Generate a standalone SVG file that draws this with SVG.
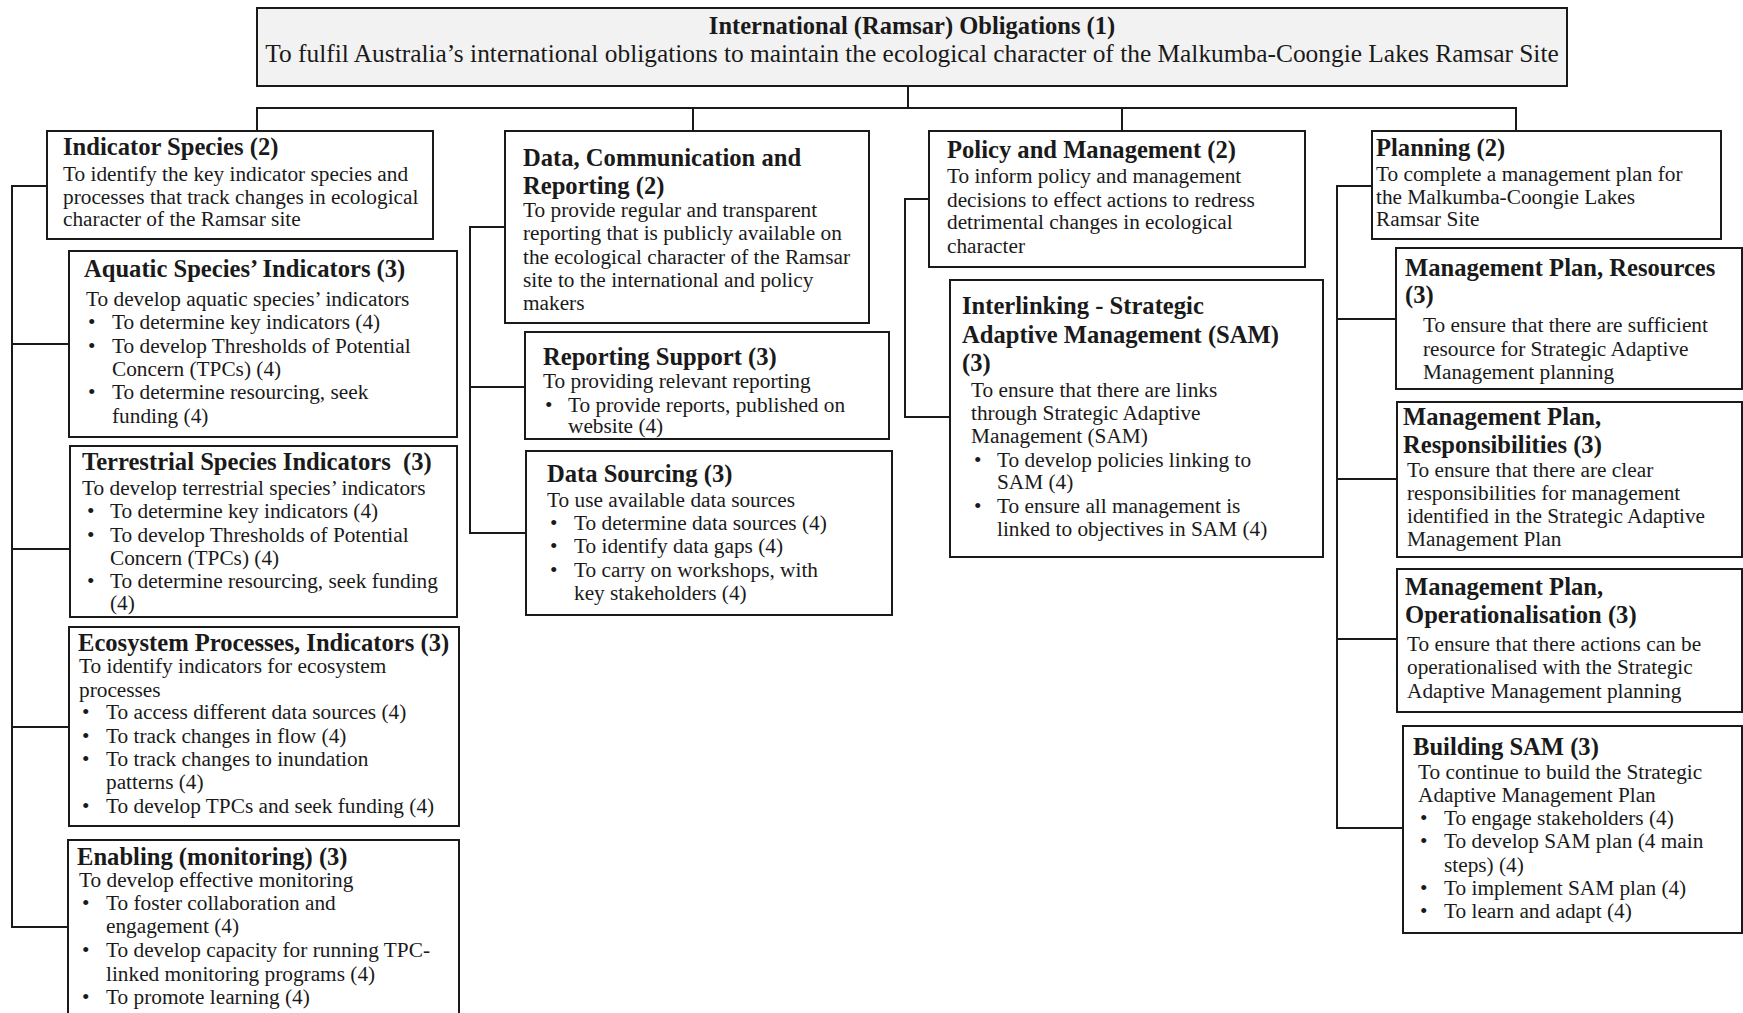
<svg xmlns="http://www.w3.org/2000/svg" width="1743" height="1013" viewBox="0 0 1743 1013">
<style>
  .box { fill: #ffffff; stroke: #1a1a1a; stroke-width: 2; }
  .topbox { fill: #f2f2f2; stroke: #1a1a1a; stroke-width: 2; }
  .conn line { stroke: #1a1a1a; stroke-width: 2; }
  text { font-family: "Liberation Serif", "Times New Roman", serif; fill: #1a1a1a; }
  .t { font-size: 24.6px; font-weight: bold; }
  .b { font-size: 21.3px; }
  .tt { font-size: 24.5px; font-weight: bold; }
  .tb { font-size: 25.4px; }
</style>
<rect width="1743" height="1013" fill="#ffffff"/>

<g id="connectors" class="conn">
  <line x1="908" y1="86" x2="908" y2="108"/>
  <line x1="256" y1="108" x2="1517" y2="108"/>
  <line x1="257" y1="108" x2="257" y2="131"/>
  <line x1="693" y1="108" x2="693" y2="131"/>
  <line x1="1122" y1="108" x2="1122" y2="131"/>
  <line x1="1516" y1="108" x2="1516" y2="131"/>
  <!-- column 1 -->
  <line x1="12" y1="185" x2="12" y2="928"/>
  <line x1="11" y1="186" x2="47" y2="186"/>
  <line x1="11" y1="344" x2="69" y2="344"/>
  <line x1="11" y1="549" x2="70" y2="549"/>
  <line x1="11" y1="727" x2="69" y2="727"/>
  <line x1="11" y1="927" x2="68" y2="927"/>
  <!-- column 2 -->
  <line x1="470" y1="226" x2="470" y2="534"/>
  <line x1="469" y1="227" x2="505" y2="227"/>
  <line x1="469" y1="387" x2="525" y2="387"/>
  <line x1="469" y1="533" x2="526" y2="533"/>
  <!-- column 3 -->
  <line x1="905" y1="198" x2="905" y2="418"/>
  <line x1="904" y1="199" x2="929" y2="199"/>
  <line x1="904" y1="417" x2="950" y2="417"/>
  <!-- column 4 -->
  <line x1="1337" y1="185" x2="1337" y2="829"/>
  <line x1="1336" y1="186" x2="1372" y2="186"/>
  <line x1="1336" y1="319" x2="1396" y2="319"/>
  <line x1="1336" y1="479" x2="1397" y2="479"/>
  <line x1="1336" y1="639" x2="1397" y2="639"/>
  <line x1="1336" y1="828" x2="1403" y2="828"/>
</g>

<g id="node-international">
  <rect class="topbox" x="257" y="8" width="1310" height="78"/>
  <text class="tt" x="912" y="34" text-anchor="middle">International (Ramsar) Obligations (1)</text>
  <text class="tb" x="912" y="62" text-anchor="middle">To fulfil Australia’s international obligations to maintain the ecological character of the Malkumba-Coongie Lakes Ramsar Site</text>
</g>

<g id="node-indicator-species">
  <rect class="box" x="47" y="131" width="386" height="108"/>
  <text class="t" x="63" y="155">Indicator Species (2)</text>
  <text class="b" x="63" y="181">To identify the key indicator species and</text>
  <text class="b" x="63" y="204">processes that track changes in ecological</text>
  <text class="b" x="63" y="226">character of the Ramsar site</text>
</g>

<g id="node-aquatic">
  <rect class="box" x="69" y="251" width="388" height="186"/>
  <text class="t" x="84" y="277">Aquatic Species’ Indicators (3)</text>
  <text class="b" x="86" y="306">To develop aquatic species’ indicators</text>
  <text class="b" x="88" y="329">•</text><text class="b" x="112" y="329">To determine key indicators (4)</text>
  <text class="b" x="88" y="353">•</text><text class="b" x="112" y="353">To develop Thresholds of Potential</text>
  <text class="b" x="112" y="376">Concern (TPCs) (4)</text>
  <text class="b" x="88" y="399">•</text><text class="b" x="112" y="399">To determine resourcing, seek</text>
  <text class="b" x="112" y="423">funding (4)</text>
</g>

<g id="node-terrestrial">
  <rect class="box" x="70" y="446" width="387" height="171"/>
  <text class="t" x="82" y="470" xml:space="preserve">Terrestrial Species Indicators  (3)</text>
  <text class="b" x="82" y="495">To develop terrestrial species’ indicators</text>
  <text class="b" x="87" y="518">•</text><text class="b" x="110" y="518">To determine key indicators (4)</text>
  <text class="b" x="87" y="542">•</text><text class="b" x="110" y="542">To develop Thresholds of Potential</text>
  <text class="b" x="110" y="565">Concern (TPCs) (4)</text>
  <text class="b" x="87" y="588">•</text><text class="b" x="110" y="588">To determine resourcing, seek funding</text>
  <text class="b" x="110" y="610">(4)</text>
</g>

<g id="node-ecosystem">
  <rect class="box" x="69" y="627" width="390" height="199"/>
  <text class="t" x="78" y="651">Ecosystem Processes, Indicators (3)</text>
  <text class="b" x="79" y="673">To identify indicators for ecosystem</text>
  <text class="b" x="79" y="697">processes</text>
  <text class="b" x="82" y="719">•</text><text class="b" x="106" y="719">To access different data sources (4)</text>
  <text class="b" x="82" y="743">•</text><text class="b" x="106" y="743">To track changes in flow (4)</text>
  <text class="b" x="82" y="766">•</text><text class="b" x="106" y="766">To track changes to inundation</text>
  <text class="b" x="106" y="789">patterns (4)</text>
  <text class="b" x="82" y="813">•</text><text class="b" x="106" y="813">To develop TPCs and seek funding (4)</text>
</g>

<g id="node-enabling">
  <rect class="box" x="68" y="840" width="391" height="190"/>
  <text class="t" x="77" y="865">Enabling (monitoring) (3)</text>
  <text class="b" x="79" y="887">To develop effective monitoring</text>
  <text class="b" x="82" y="910">•</text><text class="b" x="106" y="910">To foster collaboration and</text>
  <text class="b" x="106" y="933">engagement (4)</text>
  <text class="b" x="82" y="957">•</text><text class="b" x="106" y="957">To develop capacity for running TPC-</text>
  <text class="b" x="106" y="981">linked monitoring programs (4)</text>
  <text class="b" x="82" y="1004">•</text><text class="b" x="106" y="1004">To promote learning (4)</text>
</g>

<g id="node-data-communication">
  <rect class="box" x="505" y="131" width="364" height="192"/>
  <text class="t" x="523" y="166">Data, Communication and</text>
  <text class="t" x="523" y="194">Reporting (2)</text>
  <text class="b" x="523" y="217">To provide regular and transparent</text>
  <text class="b" x="523" y="240">reporting that is publicly available on</text>
  <text class="b" x="523" y="264">the ecological character of the Ramsar</text>
  <text class="b" x="523" y="287">site to the international and policy</text>
  <text class="b" x="523" y="310">makers</text>
</g>

<g id="node-reporting-support">
  <rect class="box" x="525" y="332" width="364" height="107"/>
  <text class="t" x="543" y="365">Reporting Support (3)</text>
  <text class="b" x="543" y="388">To providing relevant reporting</text>
  <text class="b" x="545" y="412">•</text><text class="b" x="568" y="412">To provide reports, published on</text>
  <text class="b" x="568" y="433">website (4)</text>
</g>

<g id="node-data-sourcing">
  <rect class="box" x="526" y="451" width="366" height="164"/>
  <text class="t" x="547" y="482">Data Sourcing (3)</text>
  <text class="b" x="547" y="507">To use available data sources</text>
  <text class="b" x="550" y="530">•</text><text class="b" x="574" y="530">To determine data sources (4)</text>
  <text class="b" x="550" y="553">•</text><text class="b" x="574" y="553">To identify data gaps (4)</text>
  <text class="b" x="550" y="577">•</text><text class="b" x="574" y="577">To carry on workshops, with</text>
  <text class="b" x="574" y="600">key stakeholders (4)</text>
</g>

<g id="node-policy">
  <rect class="box" x="929" y="131" width="376" height="136"/>
  <text class="t" x="947" y="158">Policy and Management (2)</text>
  <text class="b" x="947" y="183">To inform policy and management</text>
  <text class="b" x="947" y="207">decisions to effect actions to redress</text>
  <text class="b" x="947" y="229">detrimental changes in ecological</text>
  <text class="b" x="947" y="253">character</text>
</g>

<g id="node-interlinking-sam">
  <rect class="box" x="950" y="280" width="373" height="277"/>
  <text class="t" x="962" y="314">Interlinking - Strategic</text>
  <text class="t" x="962" y="343">Adaptive Management (SAM)</text>
  <text class="t" x="962" y="371">(3)</text>
  <text class="b" x="971" y="397">To ensure that there are links</text>
  <text class="b" x="971" y="420">through Strategic Adaptive</text>
  <text class="b" x="971" y="443">Management (SAM)</text>
  <text class="b" x="974" y="467">•</text><text class="b" x="997" y="467">To develop policies linking to</text>
  <text class="b" x="997" y="489">SAM (4)</text>
  <text class="b" x="974" y="513">•</text><text class="b" x="997" y="513">To ensure all management is</text>
  <text class="b" x="997" y="536">linked to objectives in SAM (4)</text>
</g>

<g id="node-planning">
  <rect class="box" x="1372" y="131" width="349" height="108"/>
  <text class="t" x="1376" y="156">Planning (2)</text>
  <text class="b" x="1376" y="181">To complete a management plan for</text>
  <text class="b" x="1376" y="204">the Malkumba-Coongie Lakes</text>
  <text class="b" x="1376" y="226">Ramsar Site</text>
</g>

<g id="node-mp-resources">
  <rect class="box" x="1396" y="248" width="346" height="141"/>
  <text class="t" x="1405" y="276">Management Plan, Resources</text>
  <text class="t" x="1405" y="303">(3)</text>
  <text class="b" x="1423" y="332">To ensure that there are sufficient</text>
  <text class="b" x="1423" y="356">resource for Strategic Adaptive</text>
  <text class="b" x="1423" y="379">Management planning</text>
</g>

<g id="node-mp-responsibilities">
  <rect class="box" x="1397" y="402" width="345" height="155"/>
  <text class="t" x="1403" y="425">Management Plan,</text>
  <text class="t" x="1403" y="453">Responsibilities (3)</text>
  <text class="b" x="1407" y="477">To ensure that there are clear</text>
  <text class="b" x="1407" y="500">responsibilities for management</text>
  <text class="b" x="1407" y="523">identified in the Strategic Adaptive</text>
  <text class="b" x="1407" y="546">Management Plan</text>
</g>

<g id="node-mp-operationalisation">
  <rect class="box" x="1397" y="569" width="345" height="143"/>
  <text class="t" x="1405" y="595">Management Plan,</text>
  <text class="t" x="1405" y="623">Operationalisation (3)</text>
  <text class="b" x="1407" y="651">To ensure that there actions can be</text>
  <text class="b" x="1407" y="674">operationalised with the Strategic</text>
  <text class="b" x="1407" y="698">Adaptive Management planning</text>
</g>

<g id="node-building-sam">
  <rect class="box" x="1403" y="726" width="339" height="207"/>
  <text class="t" x="1413" y="755">Building SAM (3)</text>
  <text class="b" x="1418" y="779">To continue to build the Strategic</text>
  <text class="b" x="1418" y="802">Adaptive Management Plan</text>
  <text class="b" x="1420" y="825">•</text><text class="b" x="1444" y="825">To engage stakeholders (4)</text>
  <text class="b" x="1420" y="848">•</text><text class="b" x="1444" y="848">To develop SAM plan (4 main</text>
  <text class="b" x="1444" y="872">steps) (4)</text>
  <text class="b" x="1420" y="895">•</text><text class="b" x="1444" y="895">To implement SAM plan (4)</text>
  <text class="b" x="1420" y="918">•</text><text class="b" x="1444" y="918">To learn and adapt (4)</text>
</g>
</svg>
